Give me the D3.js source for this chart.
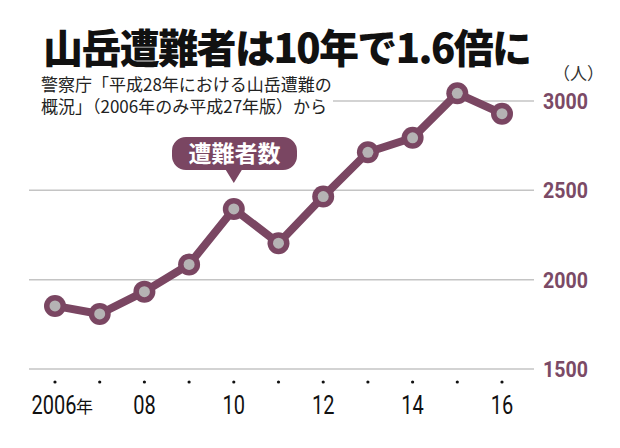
<!DOCTYPE html>
<html><head><meta charset="utf-8">
<script src="https://cdn.jsdelivr.net/npm/d3@7"></script>
<style>
body{margin:0;background:#fff;}
svg{display:block;}
</style></head>
<body>
<script>
const years = [2006,2007,2008,2009,2010,2011,2012,2013,2014,2015,2016];
const victims = [1853,1808,1933,2085,2396,2204,2465,2713,2794,3043,2929];
const yTicks = [1500,2000,2500,3000];
const xLabels = [{year:2006,text:"2006"},{year:2008,text:"08"},{year:2010,text:"10"},{year:2012,text:"12"},{year:2014,text:"14"},{year:2016,text:"16"}];
const title = "山岳遭難者は10年で1.6倍に";
const subtitle = ["警察庁「平成28年における山岳遭難の","概況」（2006年のみ平成27年版）から"];
const unit = "（人）";
const seriesName = "遭難者数";

const W=620,H=448;
const purple="#7a4662", labelPurple="#7b4a66";
const svg=d3.select("body").append("svg").attr("width",W).attr("height",H);
const x=d3.scaleLinear().domain([2006,2016]).range([55,502]);
const y=d3.scaleLinear().domain([1500,3000]).range([369,101]);
const narrow="'Roboto','Liberation Sans',sans-serif";
const jp="'Noto Sans CJK JP','Noto Sans',sans-serif";

// title
svg.append("text").attr("x",43).attr("y",63).attr("font-family",jp).attr("font-weight",900)
  .attr("font-size",40).attr("letter-spacing",-1.6).attr("fill","#111").text(title);
// subtitle
subtitle.forEach((s,i)=>svg.append("text").attr("x",41).attr("y",91+i*22).attr("font-family",jp)
  .attr("font-size",17).attr("letter-spacing",0).attr("fill","#222").text(s));

// gridlines
svg.append("g").selectAll("line").data(yTicks).join("line")
  .attr("x1",d=>d===3000?333:29).attr("x2",534)
  .attr("y1",d=>y(d)).attr("y2",d=>y(d))
  .attr("stroke","#c4c4c4").attr("stroke-width",1.5);

// y labels (condensed)
svg.append("g").selectAll("text").data(yTicks).join("text")
  .attr("transform",d=>`translate(543,${y(d)+8}) scale(0.87,1)`)
  .attr("font-family",narrow).attr("font-weight",700)
  .attr("font-size",22.5).attr("fill",labelPurple).text(d=>d);
svg.append("text").attr("x",553).attr("y",80).attr("font-family",jp).attr("font-size",17)
  .attr("fill","#333").text(unit);

// x axis dots and labels
svg.append("g").selectAll("circle").data(years).join("circle")
  .attr("cx",d=>x(d)).attr("cy",382).attr("r",1.6).attr("fill","#111");
svg.append("g").selectAll("text").data(xLabels).join("text")
  .attr("transform",d=>`translate(${x(d.year)-(d.year===2006?1:0)},414) scale(0.8,1)`).attr("text-anchor","middle")
  .attr("font-family",narrow).attr("font-size",25).attr("fill","#111").text(d=>d.text);
// 年 suffix
svg.append("text").attr("x",x(2006)+21).attr("y",413).attr("font-family",jp).attr("font-size",17)
  .attr("fill","#111").text("年");

// line
const line=d3.line().x((d,i)=>x(years[i])).y(d=>y(d));
svg.append("path").datum(victims).attr("d",line).attr("fill","none")
  .attr("stroke",purple).attr("stroke-width",8).attr("stroke-linejoin","round");
svg.append("g").selectAll("circle").data(victims).join("circle")
  .attr("cx",(d,i)=>x(years[i])).attr("cy",d=>y(d)).attr("r",11).attr("fill",purple);
svg.append("g").selectAll("circle").data(victims).join("circle")
  .attr("cx",(d,i)=>x(years[i])).attr("cy",d=>y(d)).attr("r",5.5).attr("fill","#b5b3b4");

// callout
const cx=x(2010);
const bx=172,bw=125,by=137,bh=33,r=14;
const tip=183;
const p=d3.path();
p.moveTo(bx+r,by);p.lineTo(bx+bw-r,by);p.arcTo(bx+bw,by,bx+bw,by+r,r);
p.lineTo(bx+bw,by+bh-r);p.arcTo(bx+bw,by+bh,bx+bw-r,by+bh,r);
p.lineTo(cx+8,by+bh);p.lineTo(cx,tip);p.lineTo(cx-8,by+bh);
p.lineTo(bx+r,by+bh);p.arcTo(bx,by+bh,bx,by+bh-r,r);p.lineTo(bx,by+r);p.arcTo(bx,by,bx+r,by,r);p.closePath();
svg.append("path").attr("d",p.toString()).attr("fill",purple);
svg.append("text").attr("x",bx+bw/2).attr("y",by+bh/2+8).attr("text-anchor","middle")
  .attr("font-family",jp).attr("font-weight",700).attr("font-size",23).attr("fill","#fff").text(seriesName);
</script>
</body></html>
